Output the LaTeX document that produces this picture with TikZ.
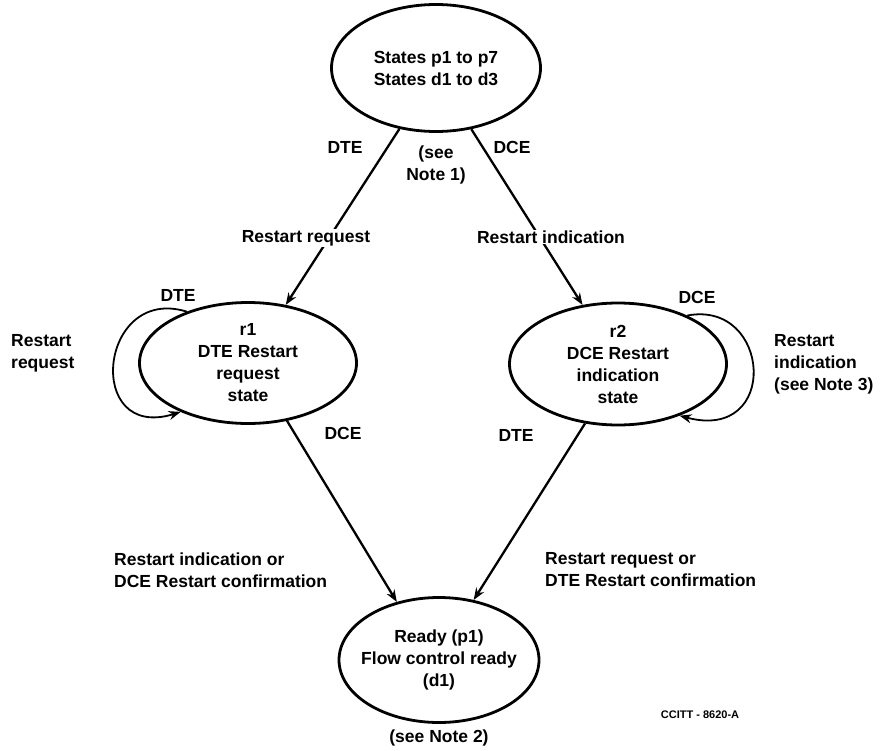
\documentclass[tikz,border=0pt]{standalone}
\usepackage{fontspec}
\setmainfont{Liberation Sans}
\usetikzlibrary{shapes.geometric,arrows.meta}

\begin{document}
\begin{tikzpicture}[x=1pt,y=-1pt,
    font=\fontsize{17.5}{22}\selectfont\bfseries,
    tip/.style={-{Stealth[length=12pt,width=9pt]}},
    lab/.style={inner sep=1pt, align=center}]

  \useasboundingbox (0,0) rectangle (881,750);

  % states
  \begin{scope}[every node/.style={ellipse, draw, line width=2.8pt, inner xsep=-15pt, inner ysep=0pt, align=center}]
    \node[minimum width=209pt, minimum height=127pt] (top) at (436,68)  {States p1 to p7\\States d1 to d3};
    \node[minimum width=217pt, minimum height=121pt] (r1)  at (248,363) {r1\\DTE Restart\\request\\state};
    \node[minimum width=217pt, minimum height=122pt] (r2)  at (618,364) {r2\\DCE Restart\\indication\\state};
    \node[minimum width=200pt, minimum height=125pt] (rdy) at (439,660) {Ready (p1)\\Flow control ready\\(d1)};
  \end{scope}

  % transitions
  \begin{scope}[line width=2.3pt]
    \draw[tip] (top.239) -- (r1.57);
    \draw[tip] (top.300) -- (r2.121);
    \draw[tip] (r1.304)  -- (rdy.126);
    \draw[tip] (r2.241)  -- (rdy.60);
    \draw[tip, line width=1.8pt] (r1.140) .. controls +(-88,-27) and +(-97,30) .. (r1.216);
    \draw[tip, line width=1.8pt] (r2.35)  .. controls +(84,-16) and +(101,27) .. (r2.320);
  \end{scope}

  % labels
  \begin{scope}[every node/.style={lab}]
    \node (t1) at (345,147) {DTE};
    \node (t2) at (512,147) {DCE};
    \node (n1) at (436,165) {(see\\Note 1)};
    \node[fill=white] (rq) at (306,238) {Restart request};
    \node[fill=white] (ri) at (551,237) {Restart indication};
    \node (l1) at (178,295) {DTE};
    \node[anchor=west, align=left] (l1t) at (10,353) {Restart\\request};
    \node (l2) at (697,297) {DCE};
    \node[anchor=west, align=left] (l2t) at (773,364) {Restart\\indication\\(see Note 3)};
    \node (b1) at (343,433) {DCE};
    \node (b2) at (516,435) {DTE};
    \node[anchor=west, align=left] (b1t) at (113,570) {Restart indication or\\DCE Restart confirmation};
    \node[anchor=west, align=left] (b2t) at (544,570) {Restart request or\\DTE Restart confirmation};
    \node (n2) at (439,738) {(see Note 2)};
    \node[font=\fontsize{11}{12}\selectfont\bfseries] (fig) at (700,715) {CCITT - 8620-A};
  \end{scope}

\end{tikzpicture}
\end{document}
